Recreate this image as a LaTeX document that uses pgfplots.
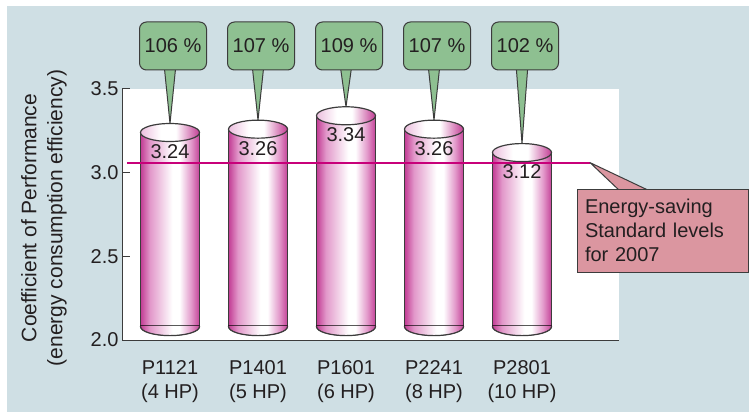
\documentclass[border=0pt]{standalone}
\usepackage{pgfplots}
\pgfplotsset{compat=1.18}
\usepackage{pgfplotstable}
\usepackage{fontspec}
\setmainfont{Liberation Sans}
\usetikzlibrary{shapes.geometric}

\definecolor{bgblue}{RGB}{207,223,228}
\definecolor{callgreen}{RGB}{142,192,145}
\definecolor{callpink}{RGB}{219,150,160}
\definecolor{stdline}{RGB}{200,0,122}
\definecolor{edgegray}{RGB}{60,60,60}
\definecolor{txt}{RGB}{35,31,32}
\definecolor{cylA}{RGB}{194,60,148}
\definecolor{cylB}{RGB}{226,152,202}
\definecolor{cylD}{RGB}{196,66,152}
\definecolor{cylT}{RGB}{236,190,222}

\pgfdeclarehorizontalshading{cylbody}{100bp}{color(0bp)=(cylA); color(25bp)=(cylA); color(33bp)=(cylB); color(52bp)=(white); color(58bp)=(white); color(68bp)=(cylB); color(75bp)=(cylD); color(100bp)=(cylD)}
\pgfdeclarehorizontalshading{cyltop}{100bp}{color(0bp)=(cylT); color(25bp)=(cylT); color(42bp)=(white); color(55bp)=(white); color(75bp)=(cylA); color(100bp)=(cylA)}

\pgfdeclareplotmark{cylbase}{%
  \path[shade, shading=cylbody] (-29.5bp,1.2bp) -- (-29.5bp,0bp)
     arc[start angle=180, end angle=360, x radius=29.5bp, y radius=9bp] -- (29.5bp,1.2bp) -- cycle;
  \draw[edgegray, line width=1.2bp] (-29.5bp,0.6bp) -- (-29.5bp,0bp)
     arc[start angle=180, end angle=360, x radius=29.5bp, y radius=9bp] -- (29.5bp,0.6bp);
}

\pgfplotstableread{
x cop pct
0 3.24 106
1 3.26 107
2 3.34 109
3 3.26 107
4 3.12 102
}\copdata

\newcommand{\bigfont}{\fontsize{20bp}{24bp}\selectfont}

\newcommand{\greencall}[3]{%
  \draw[fill=callgreen, draw=edgegray, line width=1bp, line join=round]
    ([xshift=-6bp,yshift=-18bp]axis cs:#1,3.757) -- ([yshift=9bp]axis cs:#1,#2) -- ([xshift=6bp,yshift=-18bp]axis cs:#1,3.757) -- cycle;
  \node[fill=callgreen, draw=edgegray, line width=1bp, rounded corners=7bp, minimum width=67bp, minimum height=48bp, inner sep=0pt, font=\bigfont, text=txt]
    at ([xshift=3bp]axis cs:#1,3.757) {#3};
}

\pgfplotsset{cylbar/.style={ybar, bar width=59bp, bar shift=0pt, draw=edgegray, line width=1.2bp, shade, shading=cylbody}}

\begin{document}
\begin{tikzpicture}
\fill[bgblue] (0,0) rectangle (749bp,406bp);
\fill[white] (0,406bp) rectangle (749bp,412bp);
\fill[white] (0,0) rectangle (7bp,412bp);

\node[rotate=90, align=center, font=\fontsize{21bp}{26bp}\selectfont, text=txt] at (44bp,194bp)
  {Coefficient of Performance\\(energy consumption efficiency)};

\begin{axis}[
  at={(122bp,72bp)}, anchor=south west,
  scale only axis, width=497bp, height=251bp,
  xmin=-0.5455, xmax=5.1023, ymin=2.0, ymax=3.5,
  y coord trafo/.code={\pgfmathparse{#1-2.08}},
  y coord inv trafo/.code={\pgfmathparse{#1+2.08}},
  ytick={2.0,2.5,3.0,3.5}, yticklabels={2.0,2.5,3.0,3.5},
  xtick={0,1,2,3,4},
  xticklabels={{P1121\\(4 HP)},{P1401\\(5 HP)},{P1601\\(6 HP)},{P2241\\(8 HP)},{P2801\\(10 HP)}},
  axis x line*=bottom, axis y line*=left,
  axis line style={edgegray, line width=1bp, -},
  xtick style={draw=none},
  ytick style={edgegray, line width=1bp},
  tick align=inside, major tick length=8bp,
  axis background/.style={fill=white},
  clip=false,
  tick label style={font=\bigfont, text=txt},
  xticklabel style={align=center, yshift=-17bp},
]
% cylinder bodies
\addplot[cylbar, restrict x to domain=-0.2:0.2] table[x=x, y=cop]{\copdata};
\addplot[cylbar, restrict x to domain=0.8:1.2] table[x=x, y=cop]{\copdata};
\addplot[cylbar, restrict x to domain=1.8:2.2] table[x=x, y=cop]{\copdata};
\addplot[cylbar, restrict x to domain=2.8:3.2] table[x=x, y=cop]{\copdata};
\addplot[cylbar, restrict x to domain=3.8:4.2] table[x=x, y=cop]{\copdata};
% bottom rims
\addplot[only marks, mark=cylbase] table[x=x, y expr=2.08]{\copdata};
% top ellipses
\addplot[draw=none, nodes near coords={},
  every node near coord/.append style={ellipse, minimum width=59bp, minimum height=18bp, inner sep=0pt,
    draw=edgegray, line width=1.2bp, shade, shading=cyltop, anchor=center}]
  table[x=x, y=cop]{\copdata};
% standard line
\addplot[stdline, line width=2bp] coordinates {(-0.49,3.06) (4.773,3.06)};
% value labels
\addplot[draw=none, point meta=explicit symbolic, nodes near coords,
  every node near coord/.append style={anchor=north, yshift=-12bp, inner sep=0pt, font=\bigfont, text=txt}]
  table[x=x, y=cop, meta=cop]{\copdata};

\greencall{0}{3.24}{106 \%}
\greencall{1}{3.26}{107 \%}
\greencall{2}{3.34}{109 \%}
\greencall{3}{3.26}{107 \%}
\greencall{4}{3.12}{102 \%}

\draw[fill=callpink, draw=edgegray, line width=1bp, line join=round]
  (axis cs:4.773,3.06) -- (axis cs:5.114,2.89) -- (axis cs:5.455,2.89) -- cycle;
\node[fill=callpink, draw=edgegray, line width=1bp, minimum width=171bp, minimum height=83bp,
  text width=155bp, align=left, inner xsep=8bp, font=\bigfont, text=txt]
  at (axis cs:5.597,2.654) {Energy-saving\\Standard levels\\for 2007};
\end{axis}
\end{tikzpicture}
\end{document}
